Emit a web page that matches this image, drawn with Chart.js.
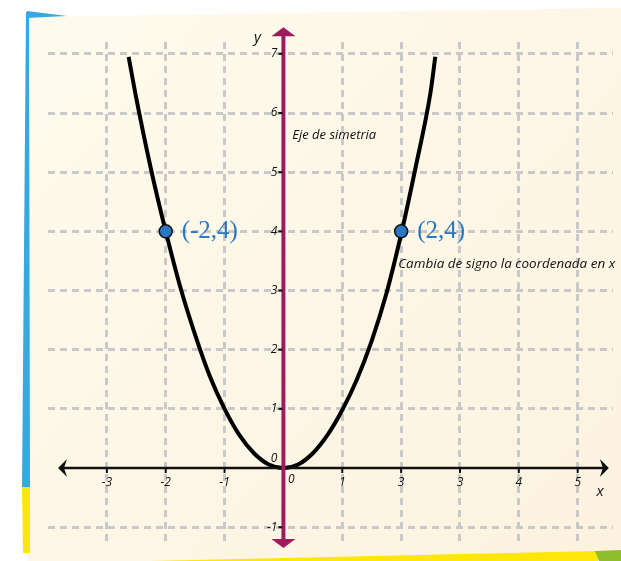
<!DOCTYPE html>
<html lang="es">
<head>
<meta charset="utf-8">
<title>Parábola y = x²</title>
<script src="https://cdn.jsdelivr.net/npm/chart.js@4.4.0/dist/chart.umd.min.js"></script>
<style>
  html, body { margin: 0; padding: 0; background: #fff; }
  #wrap { position: relative; width: 621px; height: 561px; }
</style>
</head>
<body>
<div id="wrap"><canvas id="parabola"></canvas></div>
<script>
// Curva y = x²
const curveX = [-2.63, -2.5, -2.25, -2, -1.75, -1.5, -1.25, -1, -0.75, -0.5, -0.25, 0, 0.25, 0.5, 0.75, 1, 1.25, 1.5, 1.75, 2, 2.25, 2.5, 2.58];
const curveY = [6.95, 6.25, 5.05, 4, 3.05, 2.25, 1.55, 1, 0.56, 0.25, 0.06, 0, 0.06, 0.25, 0.56, 0.98, 1.5, 2.15, 2.95, 3.95, 5.1, 6.35, 6.95];

// Puntos simétricos
const pointX = [-2, 2];
const pointY = [4, 4];
const pointLabels = ['(-2,4)', '(2,4)'];

// Marcas de los ejes
const xTicks = [-3, -2, -1, 0, 1, 2, 3, 4, 5];
const xTickLabels = ['-3', '-2', '-1', '0', '1', '3', '3', '4', '5'];
const yTicks = [-1, 0, 1, 2, 3, 4, 5, 6, 7];
const yTickLabels = ['-1', '0', '1', '2', '3', '4', '5', '6', '7'];

// Extremos de las flechas de los ejes
const xAxisRange = [-3.83, 5.53];
const yAxisRange = [-1.35, 7.45];

const MAGENTA = '#9e1c5e';
const BLUE = '#2a78c2';
const GRID = '#c9c9c9';

// Punta de flecha (tip = punta, dx/dy = dirección)
function arrowHead(ctx, tipX, tipY, dx, dy, len, half, notch, color) {
    const px = -dy, py = dx;
    ctx.beginPath();
    ctx.moveTo(tipX, tipY);
    ctx.lineTo(tipX - dx * len + px * half, tipY - dy * len + py * half);
    ctx.lineTo(tipX - dx * (len - notch), tipY - dy * (len - notch));
    ctx.lineTo(tipX - dx * len - px * half, tipY - dy * len - py * half);
    ctx.closePath();
    ctx.fillStyle = color;
    ctx.fill();
}

// Fondo tipo hoja con bordes de color
const sheetBackground = {
    id: 'sheetBackground',
    beforeDraw(chart) {
        const ctx = chart.ctx;
        const w = chart.width, h = chart.height;
        ctx.save();
        ctx.fillStyle = '#ffffff';
        ctx.fillRect(0, 0, w, h);

        const g = ctx.createLinearGradient(0, 0, w, h);
        g.addColorStop(0, '#fefbee');
        g.addColorStop(1, '#fdf2df');
        ctx.fillStyle = g;
        ctx.beginPath();
        ctx.moveTo(27, 17);
        ctx.lineTo(w, 8);
        ctx.lineTo(w, h);
        ctx.lineTo(27, h);
        ctx.closePath();
        ctx.fill();

        // franja azul izquierda
        ctx.fillStyle = '#38a9df';
        ctx.beginPath();
        ctx.moveTo(26, 12);
        ctx.lineTo(29, 12);
        ctx.lineTo(30, 487);
        ctx.lineTo(22, 487);
        ctx.closePath();
        ctx.fill();

        // cuña azul superior
        ctx.beginPath();
        ctx.moveTo(27, 11);
        ctx.lineTo(67, 16);
        ctx.lineTo(27, 18);
        ctx.closePath();
        ctx.fill();

        // tramo amarillo izquierdo
        ctx.fillStyle = '#fde60a';
        ctx.beginPath();
        ctx.moveTo(22, 487);
        ctx.lineTo(30, 487);
        ctx.lineTo(30, 553);
        ctx.lineTo(23, 553);
        ctx.closePath();
        ctx.fill();

        // franja amarilla inferior
        ctx.beginPath();
        ctx.moveTo(150, h);
        ctx.lineTo(598, 551);
        ctx.lineTo(598, h);
        ctx.closePath();
        ctx.fill();

        // esquina verde
        ctx.fillStyle = '#8dbf2c';
        ctx.beginPath();
        ctx.moveTo(595, 551);
        ctx.lineTo(w, 550);
        ctx.lineTo(w, h);
        ctx.lineTo(599, h);
        ctx.closePath();
        ctx.fill();
        ctx.restore();
    }
};

// Ejes con flechas, marcas y textos
const axesAndNotes = {
    id: 'axesAndNotes',
    afterDatasetsDraw(chart) {
        const ctx = chart.ctx;
        const xs = chart.scales.x, ys = chart.scales.y;
        const x0 = xs.getPixelForValue(0), y0 = ys.getPixelForValue(0);
        ctx.save();

        // eje x
        const xl = xs.getPixelForValue(xAxisRange[0]), xr = xs.getPixelForValue(xAxisRange[1]);
        ctx.strokeStyle = '#111';
        ctx.lineWidth = 2.5;
        ctx.beginPath();
        ctx.moveTo(xl + 4, y0);
        ctx.lineTo(xr - 4, y0);
        ctx.stroke();
        arrowHead(ctx, xl, y0, -1, 0, 9, 9, 3, '#111');
        arrowHead(ctx, xr, y0, 1, 0, 9, 9, 3, '#111');

        // eje de simetría (eje y)
        const yt = ys.getPixelForValue(yAxisRange[1]), yb = ys.getPixelForValue(yAxisRange[0]);
        ctx.strokeStyle = MAGENTA;
        ctx.lineWidth = 4;
        ctx.beginPath();
        ctx.moveTo(x0, yt + 6);
        ctx.lineTo(x0, yb - 6);
        ctx.stroke();
        arrowHead(ctx, x0, yt, 0, -1, 9, 12, 0, MAGENTA);
        arrowHead(ctx, x0, yb, 0, 1, 9, 12, 0, MAGENTA);

        // marcas y números
        ctx.fillStyle = '#111';
        ctx.strokeStyle = '#111';
        ctx.lineWidth = 2;
        ctx.font = 'italic 12px "Open Sans"';
        ctx.textAlign = 'center';
        ctx.textBaseline = 'middle';
        xTicks.forEach((v, i) => {
            const px = xs.getPixelForValue(v);
            if (v === 0) {
                ctx.fillText(xTickLabels[i], px + 8, y0 + 12);
                return;
            }
            ctx.beginPath();
            ctx.moveTo(px, y0);
            ctx.lineTo(px, y0 + 5);
            ctx.stroke();
            ctx.fillText(xTickLabels[i], px, y0 + 15);
        });
        ctx.textAlign = 'right';
        yTicks.forEach((v, i) => {
            const py = ys.getPixelForValue(v);
            if (v === 0) {
                ctx.fillText(yTickLabels[i], x0 - 6, py - 9);
                return;
            }
            ctx.beginPath();
            ctx.moveTo(x0 - 5, py);
            ctx.lineTo(x0 - 1, py);
            ctx.stroke();
            ctx.fillText(yTickLabels[i], x0 - 6, py);
        });

        // nombres de los ejes
        ctx.font = 'italic 15px "Open Sans"';
        ctx.textAlign = 'center';
        ctx.fillText('y', xs.getPixelForValue(-0.44), ys.getPixelForValue(7.27));
        ctx.fillText('x', xs.getPixelForValue(5.38), ys.getPixelForValue(-0.4));

        // notas
        ctx.textAlign = 'left';
        ctx.font = 'italic 13px "Open Sans"';
        ctx.fillText('Eje de simetria', xs.getPixelForValue(0.15), ys.getPixelForValue(5.63), 86);
        ctx.font = 'italic 13.5px "Open Sans"';
        ctx.fillText('Cambia de signo la coordenada en x', xs.getPixelForValue(1.95), ys.getPixelForValue(3.45), 217);

        // etiquetas de los puntos
        ctx.fillStyle = BLUE;
        ctx.font = '25px "Liberation Serif"';
        pointX.forEach((v, i) => {
            ctx.fillText(pointLabels[i], xs.getPixelForValue(v) + 16, ys.getPixelForValue(pointY[i]));
        });
        ctx.restore();
    }
};

new Chart(document.getElementById('parabola').getContext('2d'), {
    type: 'scatter',
    data: {
        datasets: [
            {
                label: 'y = x²',
                data: curveX.map((x, i) => ({ x: x, y: curveY[i] })),
                showLine: true,
                borderColor: '#000',
                borderWidth: 4,
                pointRadius: 0,
                cubicInterpolationMode: 'monotone',
                order: 2
            },
            {
                label: 'puntos',
                data: pointX.map((x, i) => ({ x: x, y: pointY[i] })),
                pointRadius: 6.5,
                pointBackgroundColor: BLUE,
                pointBorderColor: '#111',
                pointBorderWidth: 1.5,
                order: 1
            }
        ]
    },
    options: {
        responsive: true,
        maintainAspectRatio: false,
        animation: false,
        layout: { padding: { left: 48, top: 42, right: 0, bottom: 19 } },
        plugins: {
            legend: { display: false },
            tooltip: { enabled: false }
        },
        scales: {
            x: {
                type: 'linear',
                min: -4,
                max: 5.6,
                afterBuildTicks: axis => { axis.ticks = xTicks.filter(v => v !== 0).map(v => ({ value: v })); },
                ticks: { display: false },
                grid: { color: GRID, lineWidth: 3, drawTicks: false },
                border: { display: false, dash: [7, 5] }
            },
            y: {
                type: 'linear',
                min: -1.25,
                max: 7.2,
                afterBuildTicks: axis => { axis.ticks = yTicks.filter(v => v !== 0).map(v => ({ value: v })); },
                ticks: { display: false },
                grid: { color: GRID, lineWidth: 3, drawTicks: false },
                border: { display: false, dash: [7, 5] }
            }
        }
    },
    plugins: [sheetBackground, axesAndNotes]
});
</script>
</body>
</html>
